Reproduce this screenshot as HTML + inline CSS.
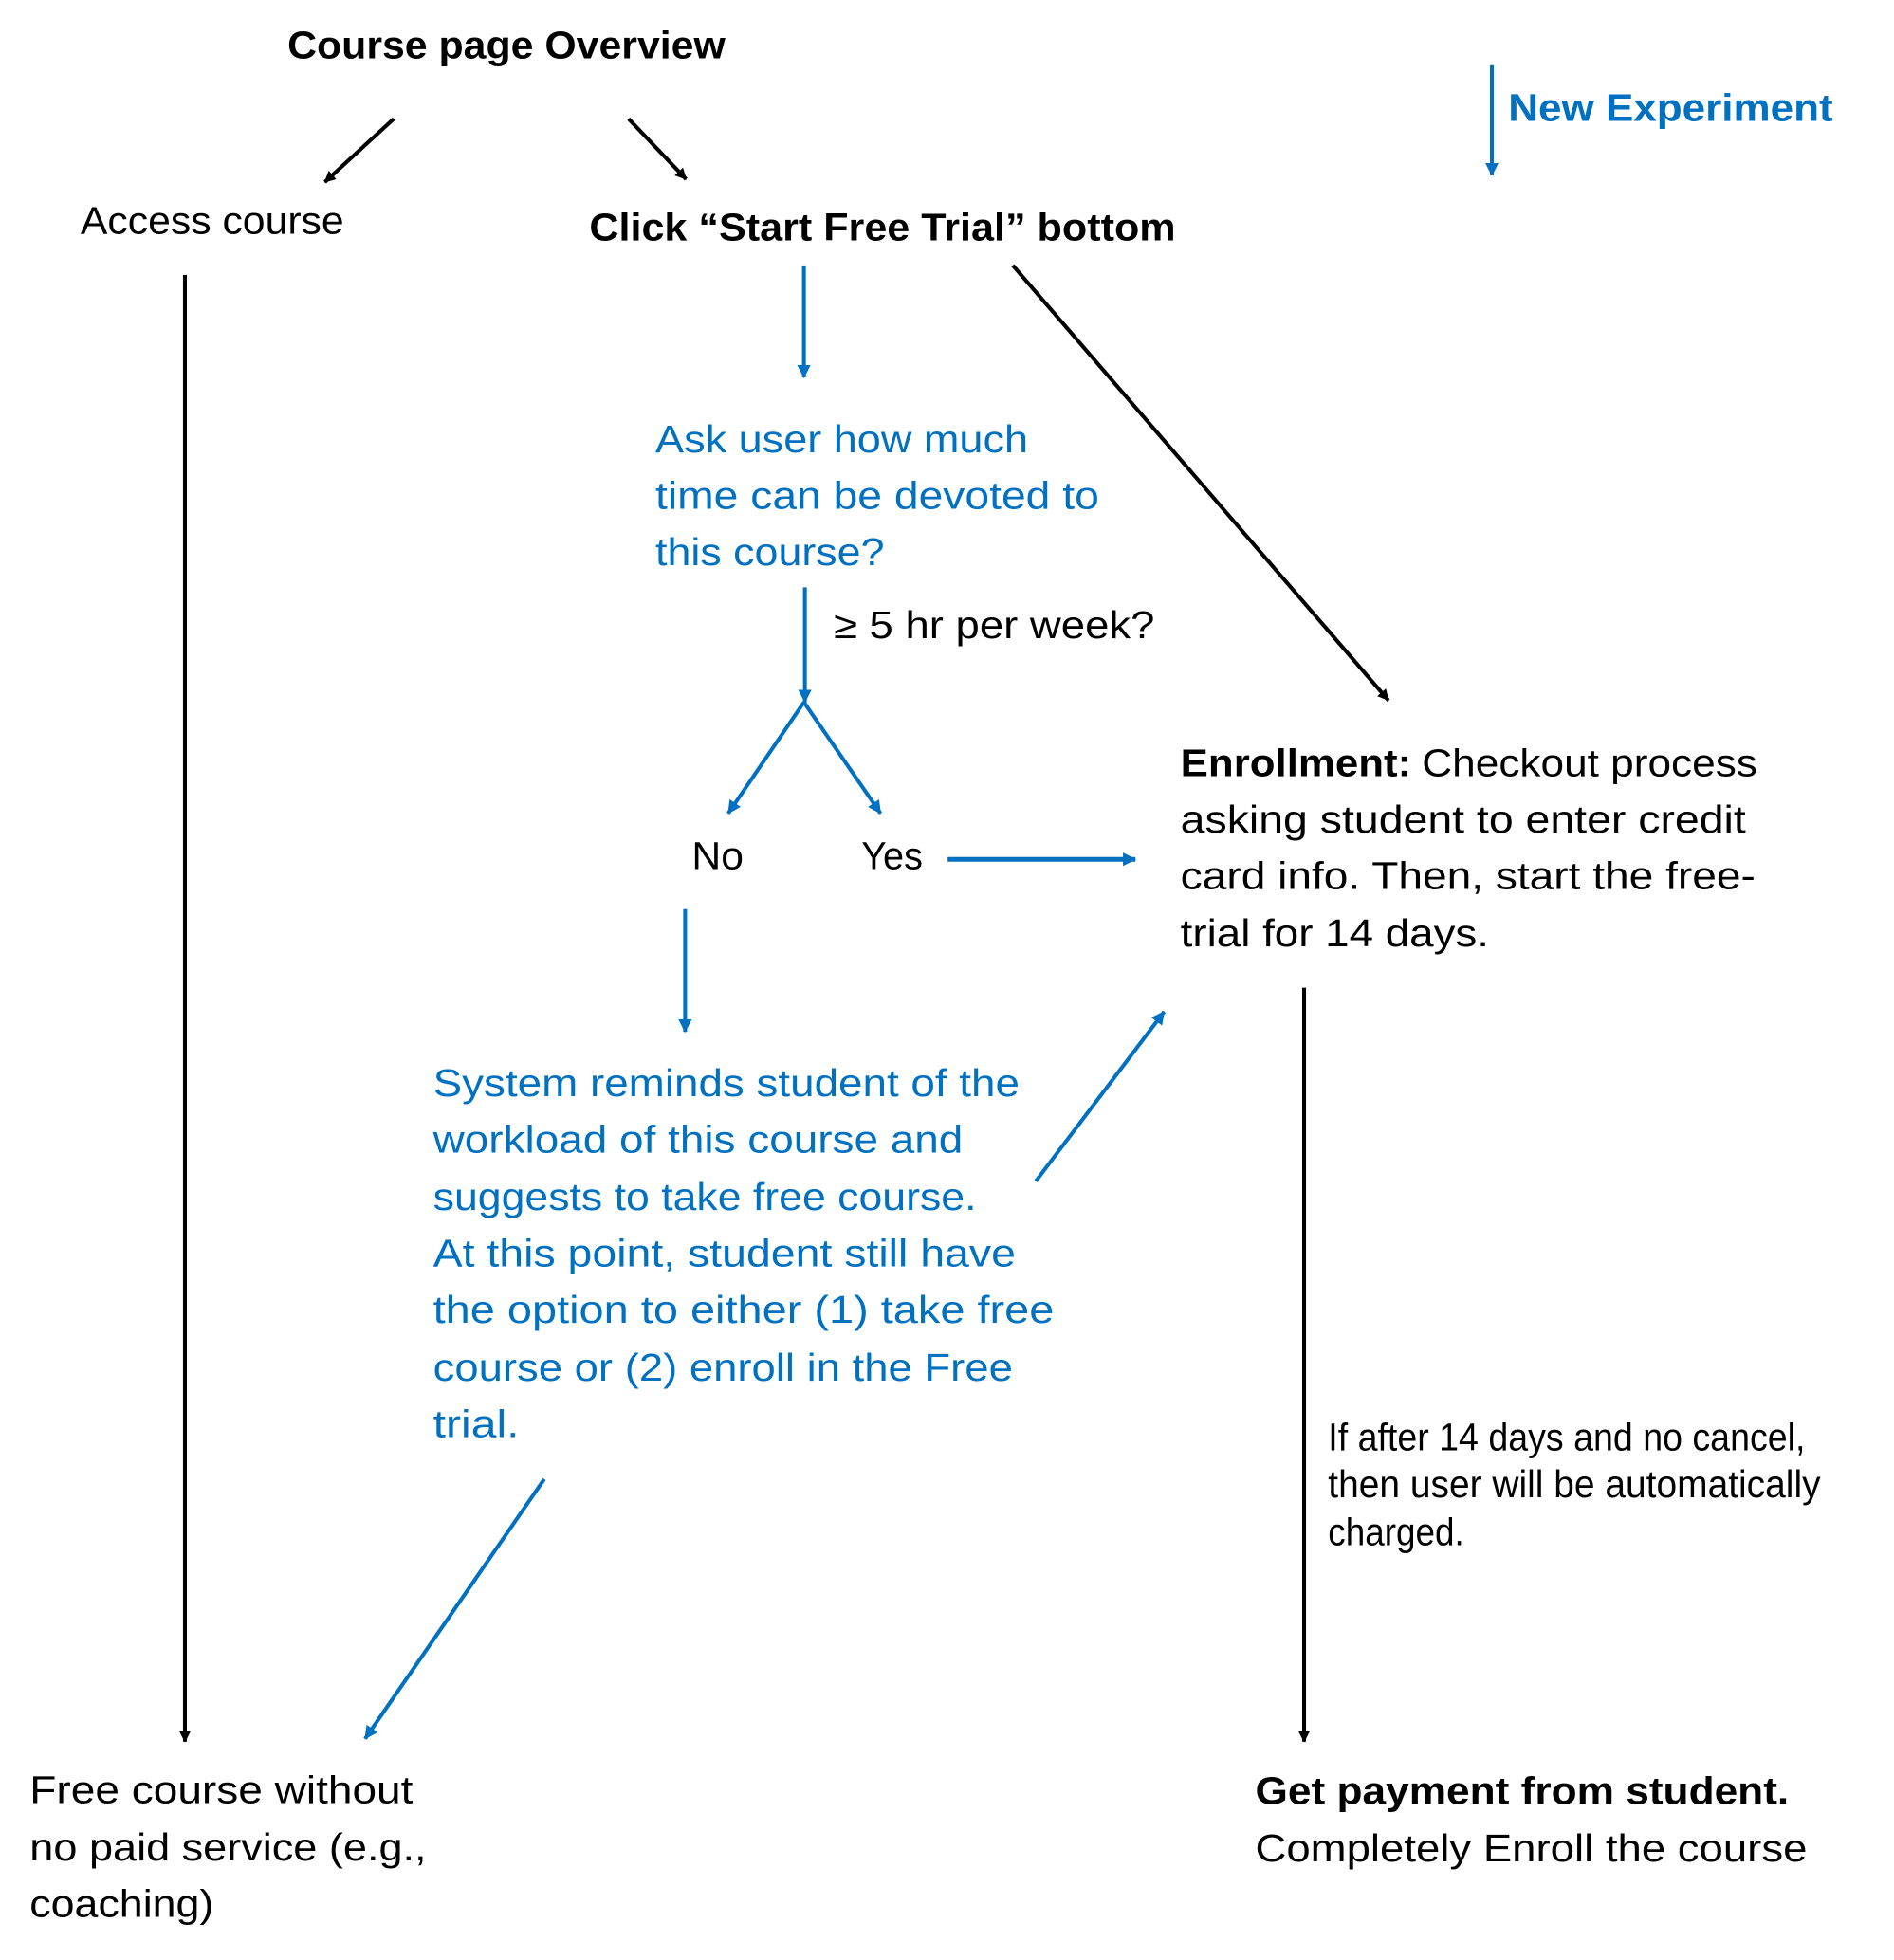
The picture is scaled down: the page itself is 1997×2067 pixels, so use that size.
<!DOCTYPE html>
<html><head><meta charset="utf-8"><style>
html,body{margin:0;padding:0;background:#fff;}
svg{display:block;}
text{font-family:"Liberation Sans",sans-serif;font-size:40px;}
.b{fill:#0070C0;}
.k{fill:#000;}
.bold{font-weight:bold;}
</style></head><body>
<svg width="1997" height="2067" viewBox="0 0 1997 2067" xmlns="http://www.w3.org/2000/svg">
<defs>
<marker id="ak" markerWidth="12" markerHeight="12" refX="11" refY="6" orient="auto" markerUnits="userSpaceOnUse" viewBox="0 0 12 12"><path d="M0,0 L12,6 L0,12 z" fill="#000"/></marker>
<marker id="ab" markerWidth="14" markerHeight="14" refX="13" refY="7" orient="auto" markerUnits="userSpaceOnUse" viewBox="0 0 14 14"><path d="M0,0 L14,7 L0,14 z" fill="#0070C0"/></marker>
</defs>
<g transform="scale(1.0103)">
<g stroke="#000" stroke-width="4" fill="none">
<line x1="411" y1="124" x2="339" y2="190" marker-end="url(#ak)"/>
<line x1="656" y1="124" x2="716" y2="187" marker-end="url(#ak)"/>
<line x1="193" y1="287" x2="193" y2="1818" marker-end="url(#ak)"/>
<line x1="1057" y1="277" x2="1449" y2="731" marker-end="url(#ak)"/>
<line x1="1361" y1="1031" x2="1361" y2="1818" marker-end="url(#ak)"/>
</g>
<g stroke="#0070C0" stroke-width="4" fill="none">
<line x1="1557" y1="68" x2="1557" y2="183" marker-end="url(#ab)"/>
<line x1="839" y1="277" x2="839" y2="394" marker-end="url(#ab)"/>
<line x1="840" y1="613" x2="840" y2="733" marker-end="url(#ab)"/>
<line x1="839" y1="733" x2="760" y2="849" marker-end="url(#ab)"/>
<line x1="839" y1="733" x2="919" y2="849" marker-end="url(#ab)"/>
<line x1="989" y1="897" x2="1185" y2="897" stroke-width="5" marker-end="url(#ab)"/>
<line x1="715" y1="949" x2="715" y2="1077" marker-end="url(#ab)"/>
<line x1="1081" y1="1233" x2="1215" y2="1056" marker-end="url(#ab)"/>
<line x1="568" y1="1544" x2="381" y2="1815" marker-end="url(#ab)"/>
</g>
<text class="k bold" x="300" y="61" textLength="457" lengthAdjust="spacingAndGlyphs" font-size="42">Course page Overview</text>
<text class="b bold" x="1574" y="126" textLength="339" lengthAdjust="spacingAndGlyphs" font-size="42">New Experiment</text>
<text class="k" x="84" y="244" textLength="275" lengthAdjust="spacingAndGlyphs">Access course</text>
<text class="k bold" x="615" y="251" textLength="612" lengthAdjust="spacingAndGlyphs" font-size="42">Click “Start Free Trial” bottom</text>
<text class="b" x="684" y="472" textLength="389" lengthAdjust="spacingAndGlyphs">Ask user how much</text>
<text class="b" x="684" y="531" textLength="463" lengthAdjust="spacingAndGlyphs">time can be devoted to</text>
<text class="b" x="684" y="590" textLength="239" lengthAdjust="spacingAndGlyphs">this course?</text>
<text class="k" x="870" y="666" textLength="335" lengthAdjust="spacingAndGlyphs">≥ 5 hr per week?</text>
<text class="k" x="722" y="907" textLength="54" lengthAdjust="spacingAndGlyphs">No</text>
<text class="k" x="899" y="907" textLength="64" lengthAdjust="spacingAndGlyphs">Yes</text>
<text class="k bold" x="1232" y="810" textLength="241" lengthAdjust="spacingAndGlyphs">Enrollment:</text>
<text class="k" x="1484" y="810" textLength="350" lengthAdjust="spacingAndGlyphs">Checkout process</text>
<text class="k" x="1232" y="869" textLength="590" lengthAdjust="spacingAndGlyphs">asking student to enter credit</text>
<text class="k" x="1232" y="928" textLength="600" lengthAdjust="spacingAndGlyphs">card info. Then, start the free-</text>
<text class="k" x="1232" y="988" textLength="322" lengthAdjust="spacingAndGlyphs">trial for 14 days.</text>
<text class="b" x="452" y="1144" textLength="612" lengthAdjust="spacingAndGlyphs">System reminds student of the</text>
<text class="b" x="452" y="1203" textLength="553" lengthAdjust="spacingAndGlyphs">workload of this course and</text>
<text class="b" x="452" y="1263" textLength="567" lengthAdjust="spacingAndGlyphs">suggests to take free course.</text>
<text class="b" x="452" y="1322" textLength="608" lengthAdjust="spacingAndGlyphs">At this point, student still have</text>
<text class="b" x="452" y="1381" textLength="648" lengthAdjust="spacingAndGlyphs">the option to either (1) take free</text>
<text class="b" x="452" y="1441" textLength="605" lengthAdjust="spacingAndGlyphs">course or (2) enroll in the Free</text>
<text class="b" x="452" y="1500" textLength="90" lengthAdjust="spacingAndGlyphs">trial.</text>
<text class="k" x="1386" y="1514" textLength="498" lengthAdjust="spacingAndGlyphs" font-size="34">If after 14 days and no cancel,</text>
<text class="k" x="1386" y="1563" textLength="514" lengthAdjust="spacingAndGlyphs" font-size="34">then user will be automatically</text>
<text class="k" x="1386" y="1613" textLength="142" lengthAdjust="spacingAndGlyphs" font-size="34">charged.</text>
<text class="k" x="31" y="1882" textLength="400" lengthAdjust="spacingAndGlyphs">Free course without</text>
<text class="k" x="31" y="1942" textLength="414" lengthAdjust="spacingAndGlyphs">no paid service (e.g.,</text>
<text class="k" x="31" y="2001" textLength="192" lengthAdjust="spacingAndGlyphs">coaching)</text>
<text class="k bold" x="1310" y="1883" textLength="557" lengthAdjust="spacingAndGlyphs" font-size="42">Get payment from student.</text>
<text class="k" x="1310" y="1943" textLength="576" lengthAdjust="spacingAndGlyphs">Completely Enroll the course</text>
</g>
</svg>
</body></html>
